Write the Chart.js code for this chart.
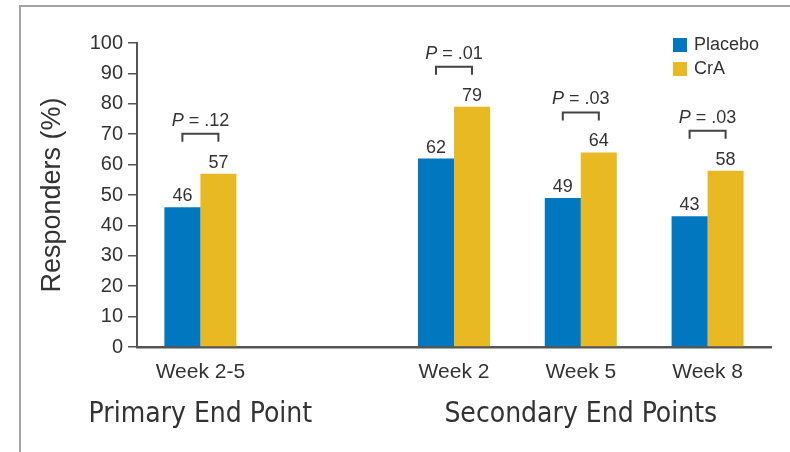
<!DOCTYPE html>
<html><head><meta charset="utf-8">
<script src="https://cdn.jsdelivr.net/npm/chart.js@4.4.1/dist/chart.umd.min.js"></script>
<style>html,body{margin:0;padding:0;background:#fff;} #wrap{width:790px;height:452px;position:relative;}</style>
</head><body><div id="wrap"><canvas id="c" width="790" height="452"></canvas></div>
<script>
const categories = ['Week 2-5', '', 'Week 2', 'Week 5', 'Week 8'];
const placebo = [46, null, 62, 49, 43];
const crA = [57, null, 79, 64, 58];
const pValues = ['.12', null, '.01', '.03', '.03'];
const groupLabels = ['Primary End Point', 'Secondary End Points'];
const groupFirst = [0, 2];
const groupLast = [0, 4];
const yMin = 0, yMax = 100, yStep = 10;

const TEXT = '#333333';
const BLUE = '#0077bf';
const YELLOW = '#e8b923';
const BASE = '"Liberation Sans", Arial, sans-serif';
const NARROW = '"Liberation Sans Narrow", "DejaVu Sans Condensed", "Liberation Sans", sans-serif';

const annot = {
  id: 'annot',
  beforeDraw(chart) {
    const ctx = chart.ctx;
    ctx.save();
    ctx.strokeStyle = '#a3a3a3'; ctx.lineWidth = 2;
    ctx.beginPath(); ctx.moveTo(20, 452); ctx.lineTo(20, 6); ctx.lineTo(790, 6); ctx.stroke();
    ctx.restore();
  },
  afterDraw(chart) {
    const ctx = chart.ctx; const xs = chart.scales.x;
    const m0 = chart.getDatasetMeta(0), m1 = chart.getDatasetMeta(1);
    ctx.save();
    ctx.fillStyle = TEXT;
    ctx.font = '18px ' + BASE; ctx.textAlign = 'center'; ctx.textBaseline = 'alphabetic';
    [m0, m1].forEach((m, di) => m.data.forEach((bar, i) => {
      const v = chart.data.datasets[di].data[i]; if (v == null) return;
      ctx.fillText(String(v), bar.x, bar.y - 6);
    }));
    pValues.forEach((p, i) => {
      if (!p) return;
      const b0 = m0.data[i], b1 = m1.data[i];
      const by = Math.min(b0.y, b1.y) - 40;
      ctx.strokeStyle = '#444'; ctx.lineWidth = 2;
      ctx.beginPath(); ctx.moveTo(b0.x, by + 8); ctx.lineTo(b0.x, by); ctx.lineTo(b1.x, by); ctx.lineTo(b1.x, by + 8); ctx.stroke();
      const cx = (b0.x + b1.x) / 2;
      const italic = 'italic 18px ' + BASE, normal = '18px ' + BASE;
      const rest = ' = ' + p;
      ctx.font = italic; const w1 = ctx.measureText('P').width;
      ctx.font = normal; const w2 = ctx.measureText(rest).width;
      const sx = cx - (w1 + w2) / 2;
      ctx.textAlign = 'left'; ctx.textBaseline = 'middle';
      ctx.font = italic; ctx.fillText('P', sx, by - 13);
      ctx.font = normal; ctx.fillText(rest, sx + w1, by - 13);
    });
    // legend
    ctx.textAlign = 'left'; ctx.textBaseline = 'middle'; ctx.font = '18px ' + BASE;
    chart.data.datasets.forEach((ds, i) => {
      const ly = 45 + i * 24;
      ctx.fillStyle = ds.backgroundColor; ctx.fillRect(673, ly - 7, 14, 14);
      ctx.fillStyle = TEXT; ctx.fillText(ds.label, 694, ly);
    });
    // group labels
    ctx.font = '28px ' + NARROW; ctx.textAlign = 'center'; ctx.textBaseline = 'middle'; ctx.fillStyle = TEXT;
    groupLabels.forEach((g, i) => {
      const cx = (xs.getPixelForValue(groupFirst[i]) + xs.getPixelForValue(groupLast[i])) / 2;
      ctx.fillText(g, cx, 415);
    });
    ctx.restore();
  }
};

new Chart(document.getElementById('c'), {
  type: 'bar',
  data: {
    labels: categories,
    datasets: [
      { label: 'Placebo', data: placebo, backgroundColor: BLUE },
      { label: 'CrA', data: crA, backgroundColor: YELLOW }
    ]
  },
  options: {
    responsive: false, animation: false,
    layout: { padding: { top: 43, right: 19, left: 0, bottom: 0 } },
    datasets: { bar: { barPercentage: 1, categoryPercentage: 0.568 } },
    plugins: { legend: { display: false }, tooltip: { enabled: false } },
    scales: {
      x: {
        grid: { display: false },
        border: { display: true, color: '#555', width: 2.5 },
        ticks: { color: TEXT, font: { family: BASE, size: 21 }, padding: 5, maxRotation: 0, autoSkip: false },
        afterFit(s) { s.height = 105; }
      },
      y: {
        min: yMin, max: yMax,
        grid: { display: true, drawOnChartArea: false, drawTicks: true, tickLength: 9, color: '#555', lineWidth: 1.5 },
        border: { display: true, color: '#555', width: 2 },
        ticks: { stepSize: yStep, color: TEXT, font: { family: BASE, size: 20 }, padding: 5 },
        title: { display: true, text: 'Responders (%)', color: TEXT, font: { family: BASE, size: 27 }, padding: { top: 36, bottom: 0 } },
        afterFit(s) { s.width = 137; }
      }
    }
  },
  plugins: [annot]
});
</script>
</body></html>
